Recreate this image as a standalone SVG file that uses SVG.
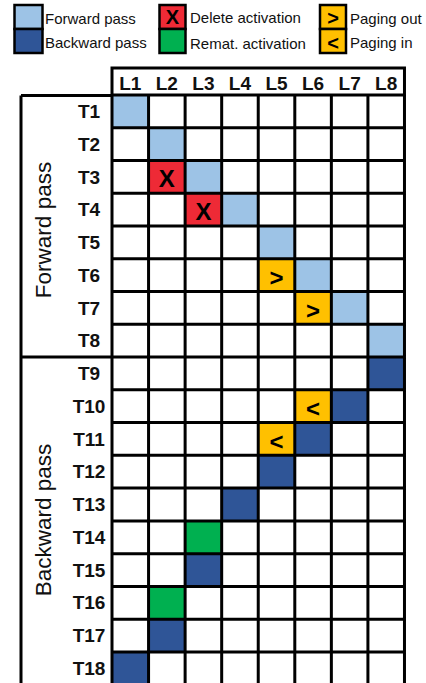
<svg xmlns="http://www.w3.org/2000/svg" width="426" height="683" viewBox="0 0 426 683">
<style>
.lb{fill:#9DC3E6}.db{fill:#2F5597}.rd{fill:#EE2A36}.gr{fill:#00B050}.or{fill:#FFC000}
.sw{stroke:#000;stroke-width:2.5}
.lg{font-family:"Liberation Sans",Arial,sans-serif;font-size:15px;fill:#111}
.hd{font-family:"Liberation Sans",Arial,sans-serif;font-size:19px;font-weight:bold;fill:#111;text-anchor:middle}
.side{font-family:"Liberation Sans",Arial,sans-serif;font-size:22.5px;fill:#111;text-anchor:middle}
.sym{font-family:"Liberation Sans",Arial,sans-serif;font-size:24px;font-weight:bold;fill:#000;text-anchor:middle}
.lsym{font-family:"Liberation Sans",Arial,sans-serif;font-size:20px;font-weight:bold;fill:#000;text-anchor:middle}
.ln{stroke:#000;stroke-width:3;fill:none}
</style>
<rect width="426" height="683" fill="#fff"/>
<g id="legend">
<g id="leg-fwd"><rect class="lb sw" x="14.5" y="5" width="28" height="24"/><text class="lg" x="45" y="24">Forward pass</text></g>
<g id="leg-bwd"><rect class="db sw" x="14.5" y="29" width="28" height="24"/><text class="lg" x="45" y="48">Backward pass</text></g>
<g id="leg-del"><rect class="rd sw" x="159.5" y="5" width="26" height="24"/><text class="lsym" x="172.5" y="24">X</text><text class="lg" x="190" y="23">Delete activation</text></g>
<g id="leg-remat"><rect class="gr sw" x="159.5" y="29" width="26" height="24"/><text class="lg" x="190" y="49">Remat. activation</text></g>
<g id="leg-out"><rect class="or sw" x="320" y="5" width="26" height="24"/><text class="lsym" x="333" y="24.5">&gt;</text><text class="lg" x="350" y="24">Paging out</text></g>
<g id="leg-in"><rect class="or sw" x="320" y="29" width="26" height="24"/><text class="lsym" x="333" y="49.5">&lt;</text><text class="lg" x="350" y="48">Paging in</text></g>
</g>
<g id="cells">
<g id="T1-L1" transform="translate(112,95)"><rect class="lb" width="36.56" height="32.76"/></g>
<g id="T2-L2" transform="translate(148.56,127.76)"><rect class="lb" width="36.56" height="32.76"/></g>
<g id="T3-L2" transform="translate(148.56,160.52)"><rect class="rd" width="36.56" height="32.76"/><text class="sym" x="18.28" y="26.5">X</text></g>
<g id="T3-L3" transform="translate(185.12,160.52)"><rect class="lb" width="36.56" height="32.76"/></g>
<g id="T4-L3" transform="translate(185.12,193.28)"><rect class="rd" width="36.56" height="32.76"/><text class="sym" x="18.28" y="26.5">X</text></g>
<g id="T4-L4" transform="translate(221.68,193.28)"><rect class="lb" width="36.56" height="32.76"/></g>
<g id="T5-L5" transform="translate(258.24,226.04)"><rect class="lb" width="36.56" height="32.76"/></g>
<g id="T6-L5" transform="translate(258.24,258.8)"><rect class="or" width="36.56" height="32.76"/><text class="sym" x="18.28" y="27">&gt;</text></g>
<g id="T6-L6" transform="translate(294.8,258.8)"><rect class="lb" width="36.56" height="32.76"/></g>
<g id="T7-L6" transform="translate(294.8,291.56)"><rect class="or" width="36.56" height="32.76"/><text class="sym" x="18.28" y="27">&gt;</text></g>
<g id="T7-L7" transform="translate(331.36,291.56)"><rect class="lb" width="36.56" height="32.76"/></g>
<g id="T8-L8" transform="translate(367.92,324.32)"><rect class="lb" width="36.56" height="32.76"/></g>
<g id="T9-L8" transform="translate(367.92,357.08)"><rect class="db" width="36.56" height="32.76"/></g>
<g id="T10-L6" transform="translate(294.8,389.84)"><rect class="or" width="36.56" height="32.76"/><text class="sym" x="18.28" y="27">&lt;</text></g>
<g id="T10-L7" transform="translate(331.36,389.84)"><rect class="db" width="36.56" height="32.76"/></g>
<g id="T11-L5" transform="translate(258.24,422.6)"><rect class="or" width="36.56" height="32.76"/><text class="sym" x="18.28" y="27">&lt;</text></g>
<g id="T11-L6" transform="translate(294.8,422.6)"><rect class="db" width="36.56" height="32.76"/></g>
<g id="T12-L5" transform="translate(258.24,455.36)"><rect class="db" width="36.56" height="32.76"/></g>
<g id="T13-L4" transform="translate(221.68,488.12)"><rect class="db" width="36.56" height="32.76"/></g>
<g id="T14-L3" transform="translate(185.12,520.88)"><rect class="gr" width="36.56" height="32.76"/></g>
<g id="T15-L3" transform="translate(185.12,553.64)"><rect class="db" width="36.56" height="32.76"/></g>
<g id="T16-L2" transform="translate(148.56,586.4)"><rect class="gr" width="36.56" height="32.76"/></g>
<g id="T17-L2" transform="translate(148.56,619.16)"><rect class="db" width="36.56" height="32.76"/></g>
<g id="T18-L1" transform="translate(112,651.92)"><rect class="db" width="36.56" height="32.76"/></g>
</g>
<g id="grid">
<rect class="ln" x="112" y="68" width="292.48" height="27"/>
<path class="ln" d="M21,95.5H112M21,95.5V690M21,357.1H112
M112,95V690M148.56,95V690M185.12,95V690M221.68,95V690M258.24,95V690M294.8,95V690M331.36,95V690M367.92,95V690M404.48,95V690
M112,127.76H404.48M112,160.52H404.48M112,193.28H404.48M112,226.04H404.48M112,258.8H404.48M112,291.56H404.48M112,324.32H404.48M112,357.08H404.48M112,389.84H404.48M112,422.6H404.48M112,455.36H404.48M112,488.12H404.48M112,520.88H404.48M112,553.64H404.48M112,586.4H404.48M112,619.16H404.48M112,651.92H404.48"/>
</g>
<g id="col-headers">
<text class="hd" x="130.28" y="90">L1</text>
<text class="hd" x="166.84" y="90">L2</text>
<text class="hd" x="203.4" y="90">L3</text>
<text class="hd" x="239.96" y="90">L4</text>
<text class="hd" x="276.52" y="90">L5</text>
<text class="hd" x="313.08" y="90">L6</text>
<text class="hd" x="349.64" y="90">L7</text>
<text class="hd" x="386.2" y="90">L8</text>
</g>
<g id="row-headers">
<text class="hd" x="89" y="118">T1</text>
<text class="hd" x="89" y="151">T2</text>
<text class="hd" x="89" y="183.5">T3</text>
<text class="hd" x="89" y="216.3">T4</text>
<text class="hd" x="89" y="249">T5</text>
<text class="hd" x="89" y="281.8">T6</text>
<text class="hd" x="89" y="314.5">T7</text>
<text class="hd" x="89" y="347.3">T8</text>
<text class="hd" x="89" y="380">T9</text>
<text class="hd" x="89" y="412.8">T10</text>
<text class="hd" x="89" y="445.5">T11</text>
<text class="hd" x="89" y="478.3">T12</text>
<text class="hd" x="89" y="511">T13</text>
<text class="hd" x="89" y="543.8">T14</text>
<text class="hd" x="89" y="576.5">T15</text>
<text class="hd" x="89" y="609.3">T16</text>
<text class="hd" x="89" y="642">T17</text>
<text class="hd" x="89" y="674.8">T18</text>
</g>
<g id="group-labels">
<text class="side" transform="translate(51,230) rotate(-90)">Forward pass</text>
<text class="side" transform="translate(51,520) rotate(-90)">Backward pass</text>
</g>
</svg>
